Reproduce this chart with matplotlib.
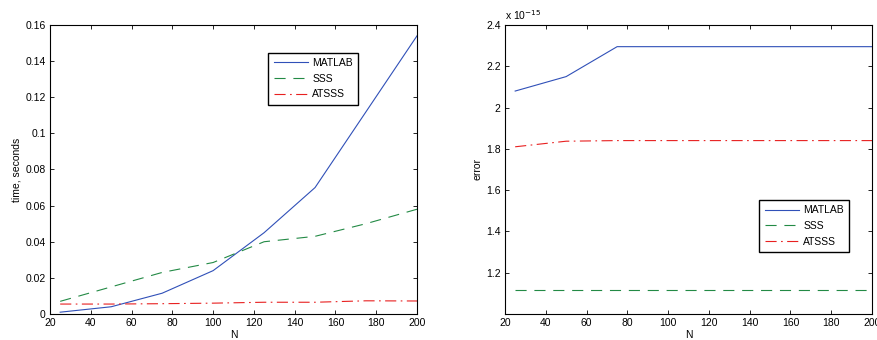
import numpy as np
import matplotlib.pyplot as plt

plt.rcParams['font.family'] = ['Liberation Sans', 'DejaVu Sans']
plt.rcParams['font.size'] = 7.5

N = [25, 50, 75, 100, 125, 150, 175, 200]

# timing, seconds
t_matlab = [0.001, 0.004, 0.0115, 0.024, 0.045, 0.070, 0.112, 0.154]
t_sss = [0.007, 0.015, 0.023, 0.0285, 0.040, 0.043, 0.050, 0.058]
t_atsss = [0.0055, 0.0055, 0.0057, 0.006, 0.0065, 0.0065, 0.0073, 0.0072]

# error, in units of 1e-15
e_matlab = [2.08, 2.15, 2.295, 2.295, 2.295, 2.295, 2.295, 2.295]
e_sss = [1.115, 1.115, 1.115, 1.115, 1.115, 1.115, 1.115, 1.115]
e_atsss = [1.81, 1.837, 1.84, 1.84, 1.84, 1.84, 1.84, 1.84]

labels = ['MATLAB', 'SSS', 'ATSSS']
colors = ['#3050b8', '#238a45', '#e82020']
styles = [dict(linestyle='-'), dict(linestyle=(0, (10, 7))), dict(linestyle=(0, (10, 4, 1.5, 4)))]

fig = plt.figure(figsize=(8.77, 3.4), dpi=100)
ax1 = fig.add_axes([0.057, 0.0765, 0.4185, 0.85])
ax2 = fig.add_axes([0.5758, 0.0765, 0.4185, 0.85])

for y, lab, c, st in zip([t_matlab, t_sss, t_atsss], labels, colors, styles):
	ax1.plot(N, y, color=c, lw=0.8, label=lab, **st)
for y, lab, c, st in zip([e_matlab, e_sss, e_atsss], labels, colors, styles):
	ax2.plot(N, y, color=c, lw=0.8, label=lab, **st)

ax1.set_xlim(20, 200)
ax1.set_ylim(0, 0.16)
ax1.set_xticks(np.arange(20, 201, 20))
ax1.set_yticks(np.arange(0, 0.161, 0.02))
ax1.set_yticklabels(['0', '0.02', '0.04', '0.06', '0.08', '0.1', '0.12', '0.14', '0.16'])
ax1.set_xlabel('N', labelpad=1)
ax1.set_ylabel('time, seconds', labelpad=3)

ax2.set_xlim(20, 200)
ax2.set_ylim(1.0, 2.4)
ax2.set_xticks(np.arange(20, 201, 20))
ax2.set_yticks([1.2, 1.4, 1.6, 1.8, 2.0, 2.2, 2.4])
ax2.set_yticklabels(['1.2', '1.4', '1.6', '1.8', '2', '2.2', '2.4'])
ax2.set_xlabel('N', labelpad=1)
ax2.set_ylabel('error', labelpad=3)
ax2.text(0.0, 1.01, r'x 10$^{-15}$', transform=ax2.transAxes, fontsize=7.5, va='bottom')

for ax in (ax1, ax2):
	ax.tick_params(direction='in', top=True, right=True, length=3, width=0.6, pad=3)
	for s in ax.spines.values():
		s.set_linewidth(0.8)

leg_kw = dict(fancybox=False, edgecolor='black', framealpha=1, fontsize=7.5,
	handlelength=3.3, borderpad=0.5, labelspacing=0.55, handletextpad=0.4)
l1 = ax1.legend(loc='upper left', bbox_to_anchor=(0.581, 0.922), **leg_kw)
l2 = ax2.legend(loc='upper left', bbox_to_anchor=(0.679, 0.412), **leg_kw)
for l in (l1, l2):
	l.get_frame().set_linewidth(1.0)

fig.savefig('out.png', dpi=100)
